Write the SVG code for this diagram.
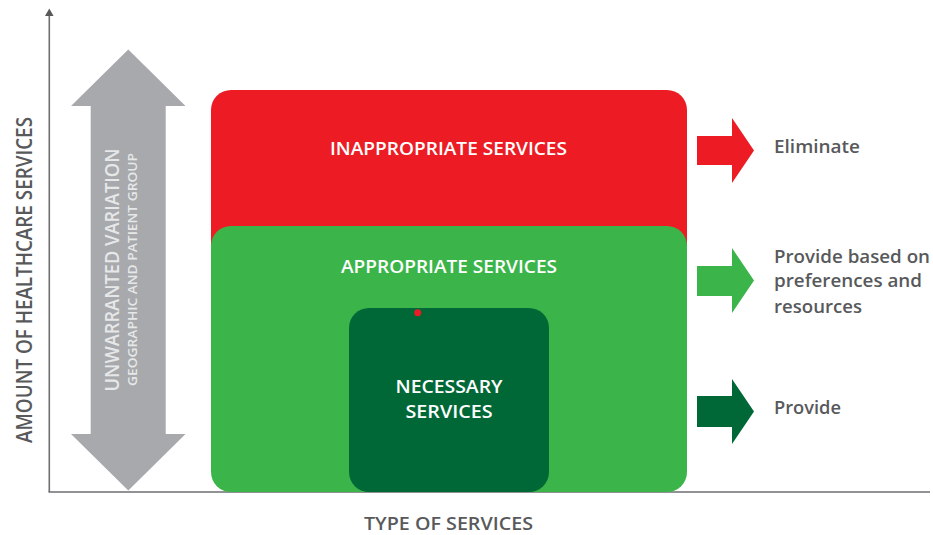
<svg xmlns="http://www.w3.org/2000/svg" width="933" height="535" viewBox="0 0 933 535">
<style>
.lbl{font-family:"Open Sans","Liberation Sans",sans-serif;font-weight:600;}
.white{fill:#ffffff;}
.axis{fill:#58595b;}
.act{fill:#58595b;font-size:18px;}
.ax{stroke:#6d6e71;stroke-width:1.6;fill:none;}
</style>
<rect width="933" height="535" fill="#ffffff"/>
<g id="axes">
  <line class="ax" x1="49.3" y1="14" x2="49.3" y2="492"/>
  <polygon points="49.3,8.5 45,16 53.6,16" fill="#58595b"/>
  <line class="ax" x1="48.5" y1="492" x2="930" y2="492"/>
  <text class="lbl axis" font-size="21" transform="translate(31.5,280) rotate(-90)" text-anchor="middle" textLength="326" lengthAdjust="spacingAndGlyphs">AMOUNT OF HEALTHCARE SERVICES</text>
  <text class="lbl axis" font-size="18" x="448.5" y="529.5" text-anchor="middle" textLength="169" lengthAdjust="spacingAndGlyphs">TYPE OF SERVICES</text>
</g>
<g id="variation">
  <polygon points="128.3,49.5 185.5,106 165.7,106 165.7,434 185.5,434 128.3,490.5 71,434 90.7,434 90.7,106 71,106" fill="#a7a9ac"/>
  <text class="lbl" fill="#e6e7e8" font-weight="400" font-size="19" transform="translate(119.3,270) rotate(-90)" text-anchor="middle" textLength="243" lengthAdjust="spacingAndGlyphs">UNWARRANTED VARIATION</text>
  <text class="lbl" fill="#e6e7e8" font-weight="400" font-size="12" transform="translate(136.7,269.5) rotate(-90)" text-anchor="middle" textLength="233" lengthAdjust="spacingAndGlyphs">GEOGRAPHIC AND PATIENT GROUP</text>
</g>
<g id="inappropriate">
  <rect x="211" y="90" width="476" height="300" rx="20" fill="#ed1c24"/>
  <text class="lbl white" font-size="18" x="448.5" y="155" text-anchor="middle" textLength="237" lengthAdjust="spacingAndGlyphs">INAPPROPRIATE SERVICES</text>
</g>
<g id="appropriate">
  <rect x="211" y="226" width="476" height="266" rx="20" fill="#3bb54a"/>
  <text class="lbl white" font-size="18" x="449" y="272.5" text-anchor="middle" textLength="216" lengthAdjust="spacingAndGlyphs">APPROPRIATE SERVICES</text>
</g>
<g id="necessary">
  <rect x="349" y="308" width="200" height="184" rx="20" fill="#006837"/>
  <circle cx="417.7" cy="312.7" r="3.5" fill="#ed1c24"/>
  <text class="lbl white" font-size="18" x="449" y="393" text-anchor="middle" textLength="107" lengthAdjust="spacingAndGlyphs">NECESSARY</text>
  <text class="lbl white" font-size="18" x="449" y="418" text-anchor="middle" textLength="87" lengthAdjust="spacingAndGlyphs">SERVICES</text>
</g>
<g id="connectors">
  <polygon points="697,136 732,136 732,118 754,150.5 732,183 732,165 697,165" fill="#ed1c24"/>
  <polygon points="697,266 732,266 732,248 754,280.5 732,313 732,296 697,296" fill="#3bb54a"/>
  <polygon points="697,396 732,396 732,379 754,411.5 732,444 732,427 697,427" fill="#006837"/>
</g>
<g id="actions">
  <text class="lbl act" x="774" y="152.5" textLength="86" lengthAdjust="spacingAndGlyphs">Eliminate</text>
  <text class="lbl act" x="774" y="263" textLength="156" lengthAdjust="spacingAndGlyphs">Provide based on</text>
  <text class="lbl act" x="774" y="287" textLength="148" lengthAdjust="spacingAndGlyphs">preferences and</text>
  <text class="lbl act" x="774" y="313" textLength="88" lengthAdjust="spacingAndGlyphs">resources</text>
  <text class="lbl act" x="774" y="414" textLength="67" lengthAdjust="spacingAndGlyphs">Provide</text>
</g>
</svg>
